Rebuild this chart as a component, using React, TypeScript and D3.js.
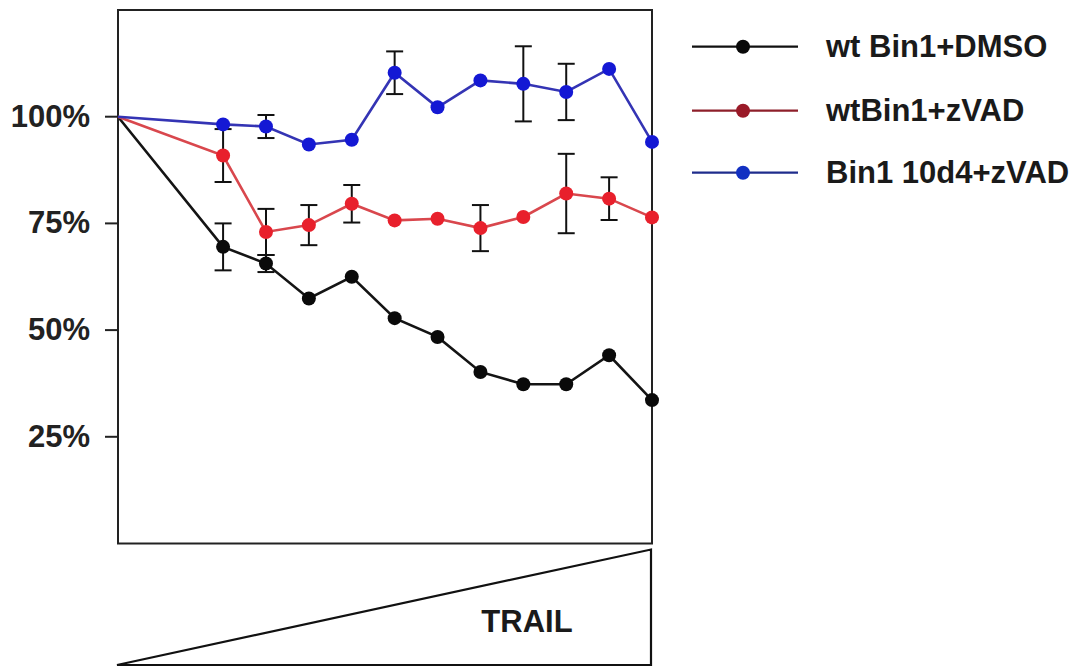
import React from "react";
import * as d3 from "d3";

// TRAIL dose positions (arbitrary units along the axis)
const doses = [0, 2.45, 3.45, 4.45, 5.45, 6.45, 7.45, 8.45, 9.45, 10.45, 11.45, 12.45];

const seriesNames = ["wt Bin1+DMSO", "wtBin1+zVAD", "Bin1 10d4+zVAD"];

const wtDmso = [100, 69.5, 65.6, 57.4, 62.5, 52.8, 48.4, 40.2, 37.3, 37.3, 44.1, 33.6];
const wtDmsoErr = [0, 5.5, 2.0, 0, 0, 0, 0, 0, 0, 0, 0, 0];

const wtZvad = [100, 90.9, 73.0, 74.6, 79.6, 75.7, 76.1, 73.9, 76.5, 82.0, 80.8, 76.4];
const wtZvadErr = [0, 6.2, 5.4, 4.7, 4.4, 0, 0, 5.4, 0, 9.3, 5.0, 0];

const mutZvad = [100, 98.2, 97.7, 93.5, 94.6, 110.3, 102.2, 108.5, 107.7, 105.8, 111.2, 94.1];
const mutZvadErr = [0, 0, 2.7, 0, 0, 5.0, 0, 0, 8.8, 6.6, 0, 0];

const yTicks = [25, 50, 75, 100];
const yTickLabels = ["25%", "50%", "75%", "100%"];

const FONT = "'Liberation Sans', Arial, Helvetica, sans-serif";

export default function App() {
  const left = 118, right = 652, top = 10, bottom = 543.5;
  const x = d3.scaleLinear().domain([0, 12.45]).range([left, right]);
  const y = d3.scaleLinear().domain([0, 125]).range([bottom, top]);

  const series = [
    { name: seriesNames[0], vals: wtDmso, err: wtDmsoErr, line: "#141414", marker: "#0a0a0a", legLine: "#111", legMarker: "#0a0a0a" },
    { name: seriesNames[1], vals: wtZvad, err: wtZvadErr, line: "#d9474d", marker: "#e8202c", legLine: "#8e1f2a", legMarker: "#9a1a28" },
    { name: seriesNames[2], vals: mutZvad, err: mutZvadErr, line: "#3434b4", marker: "#1418d4", legLine: "#1f2c8c", legMarker: "#1230c2" },
  ];

  const lineGen = d3
    .line<number>()
    .x((_, i) => x(doses[i]))
    .y((v) => y(v));

  const capW = 8.5;
  const r = 7;

  return (
    <svg width={1080} height={667} style={{ position: "absolute", left: 0, top: 0, background: "#fff" }}>
      {/* plot frame */}
      <rect x={left} y={top} width={right - left} height={bottom - top} fill="#fff" stroke="#222" strokeWidth={2} />

      {/* y ticks */}
      {yTicks.map((t, i) => (
        <g key={t}>
          <line x1={105} x2={left} y1={y(t)} y2={y(t)} stroke="#222" strokeWidth={2} />
          <text x={90} y={y(t)} dy={10} textAnchor="end" fontFamily={FONT} fontWeight="bold" fontSize={31} fill="#222">
            {yTickLabels[i]}
          </text>
        </g>
      ))}

      {/* error bars */}
      {series.map((s) =>
        s.vals.map((v, i) =>
          s.err[i] > 0 ? (
            <g key={s.name + "e" + i} stroke="#111" strokeWidth={2}>
              <line x1={x(doses[i])} x2={x(doses[i])} y1={y(v + s.err[i])} y2={y(v - s.err[i])} />
              <line x1={x(doses[i]) - capW} x2={x(doses[i]) + capW} y1={y(v + s.err[i])} y2={y(v + s.err[i])} />
              <line x1={x(doses[i]) - capW} x2={x(doses[i]) + capW} y1={y(v - s.err[i])} y2={y(v - s.err[i])} />
            </g>
          ) : null
        )
      )}

      {/* lines and markers */}
      {series.map((s) => (
        <g key={s.name}>
          <path d={lineGen(s.vals) || ""} fill="none" stroke={s.line} strokeWidth={2.6} />
          {s.vals.map((v, i) =>
            i === 0 ? null : <circle key={i} cx={x(doses[i])} cy={y(v)} r={r} fill={s.marker} />
          )}
        </g>
      ))}

      {/* legend */}
      {series.map((s, i) => {
        const ly = [46.7, 110.7, 172.7][i];
        return (
          <g key={"leg" + i}>
            <line x1={692} x2={798} y1={ly} y2={ly} stroke={s.legLine} strokeWidth={2.2} />
            <circle cx={743} cy={ly} r={7} fill={s.legMarker} />
            <text x={826} y={ly} dy={10.5} fontFamily={FONT} fontWeight="bold" fontSize={31} fill="#1a1a1a">
              {s.name}
            </text>
          </g>
        );
      })}

      {/* TRAIL wedge */}
      <polygon points={`117,665 651,549.5 651,665`} fill="#fff" stroke="#111" strokeWidth={2.2} />
      <text x={527} y={632} textAnchor="middle" fontFamily={FONT} fontWeight="bold" fontSize={31} fill="#1a1a1a">
        TRAIL
      </text>
    </svg>
  );
}
